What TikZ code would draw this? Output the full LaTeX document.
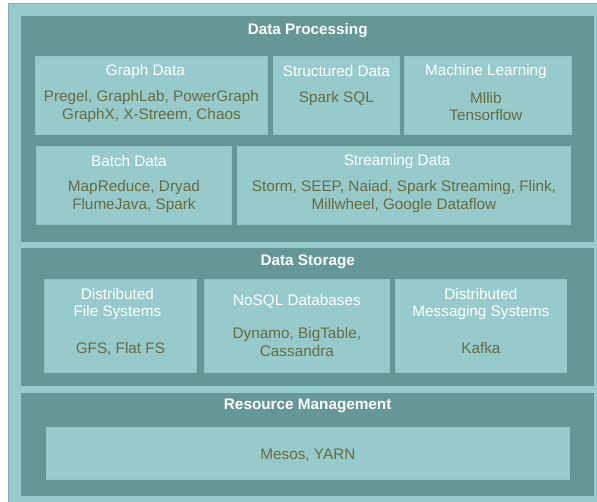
\documentclass[tikz,border=0pt]{standalone}
\usepackage{fontspec}
\setmainfont{Liberation Sans}
\usetikzlibrary{positioning}
\definecolor{LayerTeal}{HTML}{659797}
\definecolor{BoxTeal}{HTML}{97CBCB}
\definecolor{ToolOlive}{HTML}{676B3E}
\definecolor{EdgeBlue}{HTML}{8EA5C6}
\tikzset{
	layer/.style={fill=LayerTeal, inner sep=0pt, anchor=north west},
	part/.style={fill=BoxTeal, draw=BoxTeal!88!LayerTeal, line width=0.8pt, inner sep=0pt, anchor=north west},
	layertitle/.style={white, font=\fontsize{15.3}{18}\selectfont\bfseries},
	parttitle/.style={white, align=center, font=\fontsize{15.3}{17.8}\selectfont},
	tools/.style={ToolOlive, align=center, font=\fontsize{15.3}{17.8}\selectfont}
}

\begin{document}
\begin{tikzpicture}[x=1pt, y=-1pt]
	\useasboundingbox (0,0) rectangle (597,502);
	
	% Background frame
	\fill[BoxTeal] (8,3) rectangle (600,505);
	\draw[EdgeBlue, line width=0.8pt] (8,505) -- (8,3) -- (600,3);
	
	% Layers
	\node[layer, minimum width=573, minimum height=226] (processing) at (21,16) {};
	\node[layer, minimum width=573, minimum height=138] (storage) at (21,248) {};
	\node[layer, minimum width=573, minimum height=103] (resource) at (21,393) {};
	
	\node[layertitle] at ([yshift=-14.5]processing.north) {Data Processing};
	\node[layertitle] at ([yshift=-14]storage.north) {Data Storage};
	\node[layertitle] at ([yshift=-13]resource.north) {Resource Management};
	
	% Data Processing
	\node[part, minimum width=232, minimum height=78] (graph) at (35,56) {};
	\node[part, minimum width=126, minimum height=78] (structured) at (273,56) {};
	\node[part, minimum width=167, minimum height=78] (learning) at (404,56) {};
	\node[part, minimum width=195, minimum height=78] (batch) at (36,146) {};
	\node[part, minimum width=333, minimum height=78] (streaming) at (237,146) {};
	
	\node[parttitle] at ([xshift=-6,yshift=-15.5]graph.north) {Graph Data};
	\node[tools] at ([yshift=-50.5]graph.north) {Pregel, GraphLab, PowerGraph\\GraphX, X-Streem, Chaos};
	
	\node[parttitle] at ([yshift=-15.5]structured.north) {Structured Data};
	\node[tools] at ([yshift=-42.5]structured.north) {Spark SQL};
	
	\node[parttitle] at ([xshift=-2,yshift=-15.5]learning.north) {Machine Learning};
	\node[tools] at ([xshift=-2,yshift=-50.5]learning.north) {Mllib\\Tensorflow};
	
	\node[parttitle] at ([xshift=-5,yshift=-15.5]batch.north) {Batch Data};
	\node[tools] at ([yshift=-50.5]batch.north) {MapReduce, Dryad\\FlumeJava, Spark};
	
	\node[parttitle] at ([xshift=-7,yshift=-15.5]streaming.north) {Streaming Data};
	\node[tools] at ([yshift=-50.5]streaming.north) {Storm, SEEP, Naiad, Spark Streaming, Flink,\\Millwheel, Google Dataflow};
	
	% Data Storage
	\node[part, minimum width=152, minimum height=93] (files) at (44,279) {};
	\node[part, minimum width=185, minimum height=93] (nosql) at (204,279) {};
	\node[part, minimum width=171, minimum height=93] (messaging) at (395,279) {};
	
	\node[parttitle] at ([xshift=-3,yshift=-25]files.north) {Distributed\\File Systems};
	\node[tools] at ([yshift=-69.5]files.north) {GFS, Flat FS};
	
	\node[parttitle] at ([yshift=-22.5]nosql.north) {NoSQL Databases};
	\node[tools] at ([yshift=-63]nosql.north) {Dynamo, BigTable,\\Cassandra};
	
	\node[parttitle] at ([yshift=-25]messaging.north) {Distributed\\Messaging Systems};
	\node[tools] at ([yshift=-69.5]messaging.north) {Kafka};
	
	% Resource Management
	\node[part, minimum width=523, minimum height=52] (cluster) at (46,427) {};
	\node[tools] at ([yshift=-1.5]cluster.center) {Mesos, YARN};
	
\end{tikzpicture}
\end{document}
